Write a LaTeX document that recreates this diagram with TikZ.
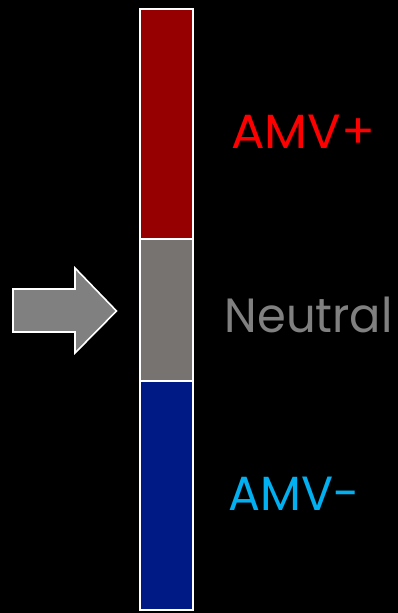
\documentclass[tikz,border=0pt]{standalone}
\usepackage{fontspec}
\setmainfont{Poppins}
\definecolor{colred}{HTML}{960000}
\definecolor{colgray}{HTML}{767371}
\definecolor{colblue}{HTML}{001A85}
\definecolor{arrowgray}{HTML}{808080}
\definecolor{txtblue}{HTML}{00B0F0}
\definecolor{txtgray}{HTML}{808080}
\begin{document}
\begin{tikzpicture}[x=1pt,y=1pt,
  seg/.style={draw=white,line width=2.2pt},
  lbl/.style={anchor=base west,inner sep=0pt,font=\fontsize{48}{50}\selectfont}]
\fill[black] (0,0) rectangle (398,-613);
\useasboundingbox (0,0) rectangle (398,-613);
\node[seg,fill=colred,minimum width=53.5pt,minimum height=230pt,inner sep=0pt,anchor=north west] (red) at (138.7,-8) {};
\node[seg,fill=colgray,minimum width=53.5pt,minimum height=142pt,inner sep=0pt,anchor=north west] (gray) at (138.7,-238) {};
\node[seg,fill=colblue,minimum width=53.5pt,minimum height=228.5pt,inner sep=0pt,anchor=north west] (blue) at (138.7,-380) {};
\draw[draw=white,line width=1.6pt,fill=arrowgray,line join=miter]
  (13,-289) -- (75,-289) -- (75,-268) -- (116.5,-311) -- (75,-353) -- (75,-332) -- (13,-332) -- cycle;
\node[lbl,text=red] (plus) at (231,-148) {\resizebox{144pt}{\height}{AMV+}};
\node[lbl,text=txtgray] (neutral) at (224.5,-332) {\resizebox{168pt}{\height}{Neutral}};
\node[lbl,text=txtblue] (minus) at (228,-510) {\resizebox{131pt}{\height}{AMV-}};
\end{tikzpicture}
\end{document}
